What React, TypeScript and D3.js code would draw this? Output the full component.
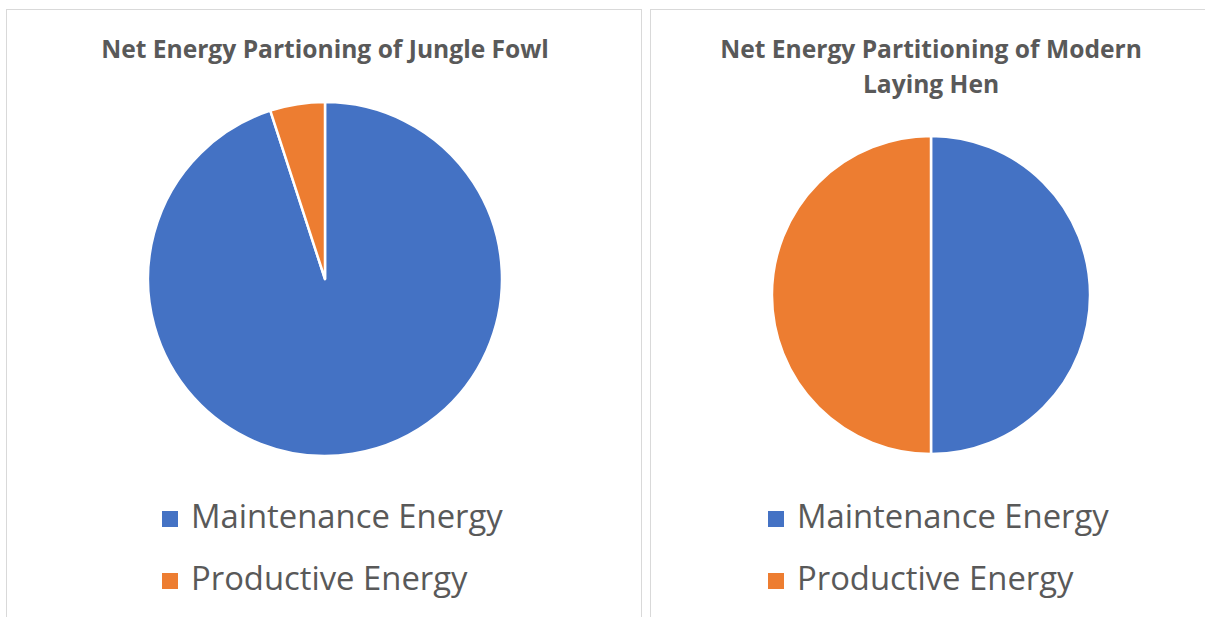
import React from 'react';
import * as d3 from 'd3';

const categories = ['Maintenance Energy', 'Productive Energy'];
const jungleFowl = [95, 5];
const layingHen = [50, 50];
const colors = ['#4472C4', '#ED7D31'];

const W = 1205;
const H = 617;
const FONT = "'Open Sans', 'Liberation Sans', sans-serif";
const TEXT = '#595959';

interface PanelProps {
  x: number;
  w: number;
  titleLines: string[];
  values: number[];
  cx: number;
  cy: number;
  r: number;
  legendX: number;
}

const Panel: React.FC<PanelProps> = ({ x, w, titleLines, values, cx, cy, r, legendX }) => {
  const pie = d3.pie<number>().sort(null).value(d => d);
  const arc = d3.arc<d3.PieArcDatum<number>>().innerRadius(0).outerRadius(r);
  const arcs = pie(values);
  const color = d3.scaleOrdinal<string, string>().domain(categories).range(colors);

  return (
    <g>
      <rect x={x + 0.5} y={9.5} width={w} height={H + 20} fill="#fff" stroke="#D9D9D9" strokeWidth={1} />
      {titleLines.map((t, i) => (
        <text
          key={t}
          x={cx}
          y={58 + i * 35}
          textAnchor="middle"
          fontFamily={FONT}
          fontWeight="bold"
          fontSize={24.6}
          fill={TEXT}
        >
          {t}
        </text>
      ))}
      <g transform={`translate(${cx},${cy})`}>
        {arcs.map((a, i) => (
          <path key={i} d={arc(a) || ''} fill={color(categories[i])} stroke="#fff" strokeWidth={2.5} strokeLinejoin="round" />
        ))}
      </g>
      {categories.map((c, i) => (
        <g key={c} transform={`translate(${legendX},${528 + i * 62})`}>
          <rect x={0} y={-17} width={16} height={16} fill={color(c)} />
          <text x={29} y={0} fontFamily={FONT} fontSize={32.8} fill={TEXT}>
            {c}
          </text>
        </g>
      ))}
    </g>
  );
};

export default function App() {
  return (
    <svg width={W} height={H} style={{ position: 'absolute', left: 0, top: 0, background: '#fff' }}>
      <rect width={W} height={H} fill="#fff" />
      <Panel
        x={6}
        w={635}
        titleLines={['Net Energy Partioning of Jungle Fowl']}
        values={jungleFowl}
        cx={325}
        cy={279}
        r={177}
        legendX={162}
      />
      <Panel
        x={650}
        w={570}
        titleLines={['Net Energy Partitioning of Modern', 'Laying Hen']}
        values={layingHen}
        cx={931}
        cy={295}
        r={159}
        legendX={768}
      />
    </svg>
  );
}
